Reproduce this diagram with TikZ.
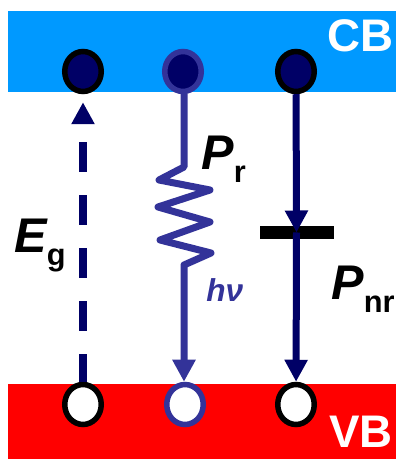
\documentclass[tikz,border=0pt]{standalone}
\usepackage{fontspec}
\setmainfont{Liberation Sans}
\usetikzlibrary{arrows.meta,shapes.geometric}

\definecolor{cbblue}{HTML}{0099FF}
\definecolor{navy}{HTML}{000066}
\definecolor{midblue}{HTML}{333399}

% Big italic letter with a lowered upright index
\newcommand{\biglabel}[2]{{\fontsize{27.7}{30}\selectfont\bfseries\itshape #1}\raisebox{-0.25cm}{\fontsize{17.5}{19}\selectfont\bfseries #2}}

\tikzset{
    carrier/.style={ellipse, minimum width=0.73cm, minimum height=0.8cm, inner sep=0pt, line width=0.11cm},
    electron/.style={carrier, fill=navy},
    hole/.style={carrier, fill=white},
    band/.style={anchor=base east, text=white, font=\fontsize{26}{28}\selectfont\bfseries, inner sep=0pt},
    lbl/.style={anchor=base west, inner sep=0pt},
    transition/.style={line width=0.14cm, -{Triangle[length=0.44cm,width=0.44cm]}}
}

\begin{document}
\begin{tikzpicture}
    \useasboundingbox (0,0) rectangle (7.92,9.18);

    % Conduction and valence band
    \fill[cbblue] (0.16,7.34) rectangle (7.92,8.96);
    \fill[red] (0.16,0) rectangle (7.92,1.5);
    \node[band] (cb) at (7.88,8.14) {CB};
    \node[band] (vb) at (7.86,0.24) {VB};

    % Carriers in the bands
    \node[electron, draw=black] (e1) at (1.66,7.75) {};
    \node[electron, draw=midblue] (e2) at (3.66,7.75) {};
    \node[electron, draw=black] (e3) at (5.92,7.75) {};
    \node[hole, draw=black] (h1) at (1.66,1.09) {};
    \node[hole, draw=midblue] (h2) at (3.70,1.09) {};
    \node[hole, draw=black] (h3) at (5.92,1.09) {};

    % Trap level
    \node[fill=black, minimum width=1.48cm, minimum height=0.26cm, inner sep=0pt] (trap) at (5.93,4.53) {};

    % Band gap, dashed
    \draw[transition, color=navy, line width=0.15cm, dash pattern=on 0.6cm off 0.46cm, dash phase=0.04cm, shorten >=0.16cm] (h1) -- (e1);

    % Radiative path with the zigzag
    \coordinate (z0) at (3.68,5.84);
    \coordinate (z7) at (3.68,3.88);
    \draw[transition, color=midblue, line join=round] (z0 |- e2.south) -- (z0) -- (3.18,5.58) -- (4.20,5.38) -- (3.16,5.04) -- (4.20,4.74) -- (3.20,4.38) -- (4.22,4.12) -- (z7) -- (z7 |- h2.north);

    % Non-radiative path through the trap
    \draw[transition, color=navy] (e3) -- (trap.center);
    \draw[transition, color=navy] (trap.center) -- (h3);

    % Labels
    \node[lbl] (eg) at (0.28,4.12) {\biglabel{E}{g}};
    \node[lbl] (pr) at (4.02,5.78) {\biglabel{P}{r}};
    \node[lbl] (pnr) at (6.62,3.18) {\biglabel{P}{nr}};
    \node[lbl, text=midblue, font=\fontsize{18}{20}\selectfont\bfseries\itshape] (hnu) at (4.12,3.14) {hν};
\end{tikzpicture}
\end{document}
